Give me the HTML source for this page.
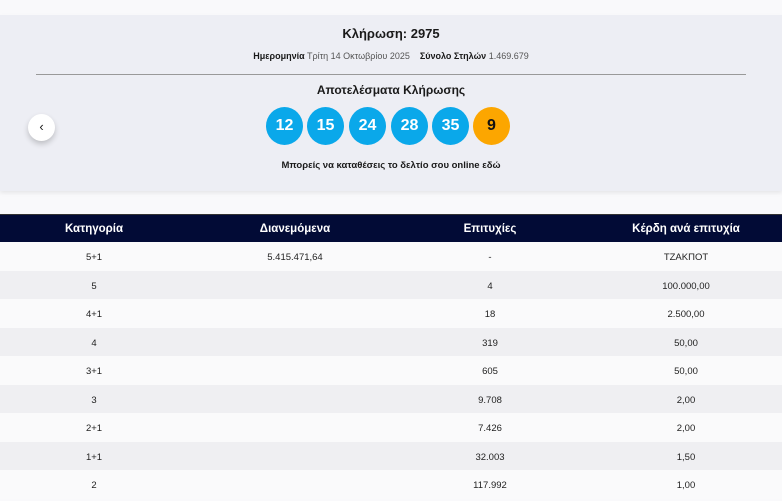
<!DOCTYPE html><html><head><meta charset="utf-8"><style>
body{margin:0;width:782px;height:494px;overflow:hidden;background:#f9f9fb;font-family:"Liberation Sans",sans-serif;color:#1a1a1a;position:relative}
.panel{position:absolute;left:0;top:15px;width:782px;height:176px;background:#edeef4;box-shadow:0 2px 4px rgba(0,0,0,.08)}
.t{position:absolute;left:0;width:782px;text-align:center;white-space:nowrap}
.hr{position:absolute;left:36px;width:710px;top:74px;height:1px;background:#999}
.ball{position:absolute;top:107px;width:37px;height:38px;border-radius:50%;background:#0aa8ea;color:#fff;font-weight:bold;font-size:16px;line-height:38px;text-align:center}
.arrow{position:absolute;left:28px;top:113px;width:27px;height:27px;border-radius:50%;background:#fff;box-shadow:0 3px 6px rgba(0,0,0,.2);font-size:13px;line-height:26px;text-align:center}
.hdr{position:absolute;top:214px;left:0;width:782px;height:28px;background:#020b36;color:#fff;font-size:11.5px;font-weight:bold;border-top:1px solid #333;box-sizing:border-box}
.row{position:absolute;left:0;width:782px;height:29px;font-size:9.5px;color:#222}
.c{position:absolute;top:0;line-height:28px;width:200px;text-align:center;white-space:nowrap}
.row .c{line-height:31px}
</style></head><body>
<div class="panel"></div>
<div class="t" style="top:26px;font-size:13px;font-weight:bold">Κλήρωση: 2975</div>
<div class="t" style="top:51px;font-size:9px"><b>Ημερομηνία</b> <span style="color:#555">Τρίτη 14 Οκτωβρίου 2025</span> &nbsp;&nbsp; <b>Σύνολο Στηλών</b> <span style="color:#555">1.469.679</span></div>
<div class="hr"></div>
<div class="t" style="top:83px;font-size:12px;font-weight:bold">Αποτελέσματα Κλήρωσης</div>
<div class="ball" style="left:266px">12</div><div class="ball" style="left:307px">15</div><div class="ball" style="left:349px">24</div><div class="ball" style="left:391px">28</div><div class="ball" style="left:432px">35</div><div class="ball" style="left:473px;background:#fca600;color:#111">9</div>
<div class="arrow" style="top:114px">‹</div>
<div class="t" style="top:160px;font-size:9.5px;font-weight:bold">Μπορείς να καταθέσεις το δελτίο σου online εδώ</div>
<div class="hdr"><div class="c" style="left:-6px">Κατηγορία</div><div class="c" style="left:195px">Διανεμόμενα</div><div class="c" style="left:390px">Επιτυχίες</div><div class="c" style="left:586px">Κέρδη ανά επιτυχία</div></div>
<div class="row" style="top:242px;background:#fafafb"><div class="c" style="left:-6px">5+1</div><div class="c" style="left:195px">5.415.471,64</div><div class="c" style="left:390px">-</div><div class="c" style="left:586px">ΤΖΑΚΠΟΤ</div></div>
<div class="row" style="top:270.5px;background:#efeff2"><div class="c" style="left:-6px">5</div><div class="c" style="left:390px">4</div><div class="c" style="left:586px">100.000,00</div></div>
<div class="row" style="top:299px;background:#fafafb"><div class="c" style="left:-6px">4+1</div><div class="c" style="left:390px">18</div><div class="c" style="left:586px">2.500,00</div></div>
<div class="row" style="top:327.5px;background:#efeff2"><div class="c" style="left:-6px">4</div><div class="c" style="left:390px">319</div><div class="c" style="left:586px">50,00</div></div>
<div class="row" style="top:356px;background:#fafafb"><div class="c" style="left:-6px">3+1</div><div class="c" style="left:390px">605</div><div class="c" style="left:586px">50,00</div></div>
<div class="row" style="top:384.5px;background:#efeff2"><div class="c" style="left:-6px">3</div><div class="c" style="left:390px">9.708</div><div class="c" style="left:586px">2,00</div></div>
<div class="row" style="top:413px;background:#fafafb"><div class="c" style="left:-6px">2+1</div><div class="c" style="left:390px">7.426</div><div class="c" style="left:586px">2,00</div></div>
<div class="row" style="top:441.5px;background:#efeff2"><div class="c" style="left:-6px">1+1</div><div class="c" style="left:390px">32.003</div><div class="c" style="left:586px">1,50</div></div>
<div class="row" style="top:470px;background:#fafafb"><div class="c" style="left:-6px">2</div><div class="c" style="left:390px">117.992</div><div class="c" style="left:586px">1,00</div></div>
</body></html>
